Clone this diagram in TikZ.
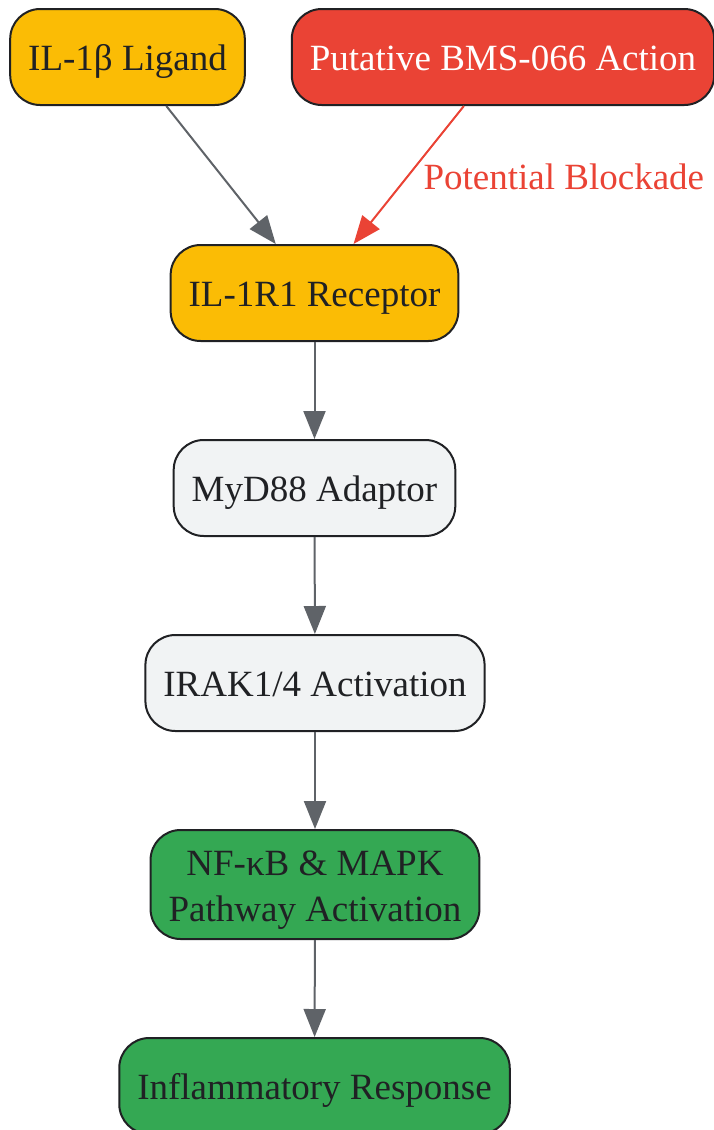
\documentclass[tikz,border=0pt]{standalone}
\usepackage{fontspec}
\setmainfont{Liberation Serif}
\usetikzlibrary{arrows.meta}

\definecolor{ligandcol}{HTML}{FBBC05}
\definecolor{drugcol}{HTML}{EA4335}
\definecolor{adaptcol}{HTML}{F1F3F4}
\definecolor{signalcol}{HTML}{34A853}
\definecolor{edgecol}{HTML}{5F6368}
\definecolor{inkcol}{HTML}{202124}

\tikzset{
  stepbox/.style={draw=inkcol, line width=2pt, rounded corners=30pt,
    inner xsep=18pt, minimum height=96pt, text=inkcol, align=center,
    text height=27pt, text depth=0pt,
    font=\fontsize{37}{46}\selectfont},
  flow/.style={draw=edgecol, line width=2pt, -{Triangle[length=28pt,width=22pt]}},
  block/.style={draw=drugcol, line width=2pt, -{Triangle[length=28pt,width=22pt]}}
}

\begin{document}
\begin{tikzpicture}[x=1pt, y=-1pt]
    \useasboundingbox (0,0) rectangle (714,1130);

    \node[stepbox, fill=ligandcol] (ligand) at (127.5, 57) {IL-1β Ligand};
    \node[stepbox, fill=drugcol, text=white] (drug) at (503, 57) {Putative BMS-066 Action};
    \node[stepbox, fill=ligandcol] (receptor) at (314.5, 293) {IL-1R1 Receptor};
    \node[stepbox, fill=adaptcol] (myd) at (314.5, 488) {MyD88 Adaptor};
    \node[stepbox, fill=adaptcol] (irak) at (315, 683) {IRAK1/4 Activation};
    \node[stepbox, fill=signalcol, minimum height=109pt, text height=73pt] (nfkb) at (315, 884.5) {NF-κB \& MAPK\\Pathway Activation};
    \node[stepbox, fill=signalcol] (response) at (314.5, 1086) {Inflammatory Response};

    \draw[flow] (ligand) -- (receptor);
    \draw[block] (drug) -- (receptor);
    \node[anchor=west, text=drugcol, font=\fontsize{37}{46}\selectfont] (blocklabel) at (420, 177) {Potential Blockade};

    \draw[flow] (receptor) -- (myd);
    \draw[flow] (myd) -- (irak);
    \draw[flow] (irak) -- (nfkb);
    \draw[flow] (nfkb) -- (response);
  \end{tikzpicture}
\end{document}
